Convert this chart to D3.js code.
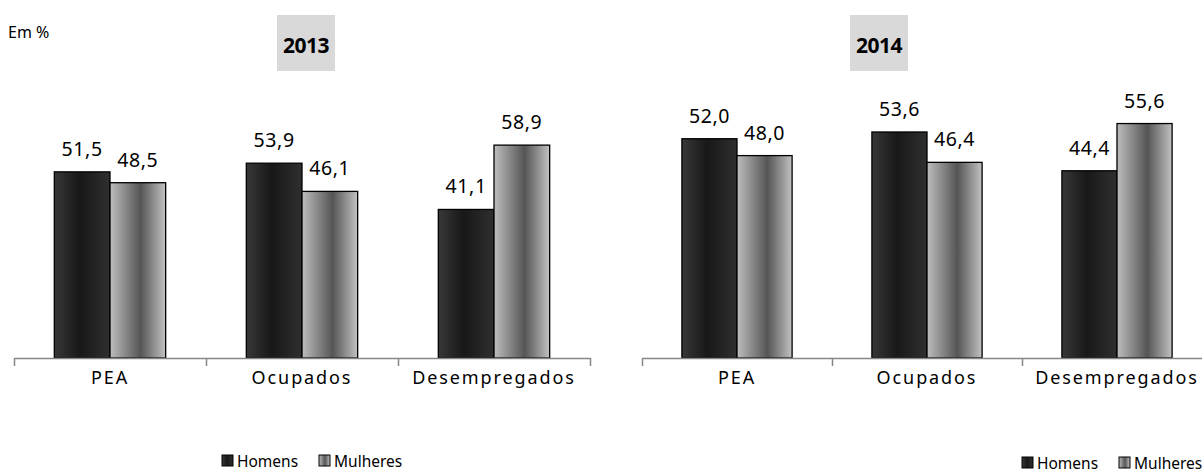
<!DOCTYPE html>
<html>
<head>
<meta charset="utf-8">
<script src="https://cdn.jsdelivr.net/npm/d3@7"></script>
<style>
  html, body { margin: 0; padding: 0; background: #fff; }
  svg { display: block; }
  text { font-family: "Noto Sans", "Open Sans", sans-serif; fill: #000; }
</style>
</head>
<body>
<svg id="chart" width="1202" height="475"></svg>
<script>
// Participação de homens e mulheres (%), 2013 e 2014
const categories = ["PEA", "Ocupados", "Desempregados"];
const seriesNames = ["Homens", "Mulheres"];
const years = ["2013", "2014"];
const homens2013 = [51.5, 53.9, 41.1];
const mulheres2013 = [48.5, 46.1, 58.9];
const homens2014 = [52.0, 53.6, 44.4];
const mulheres2014 = [48.0, 46.4, 55.6];
const yMax = [70, 60];

const svg = d3.select("#chart");
const fmt = d3.formatLocale({ decimal: ",", thousands: ".", grouping: [3], currency: ["", ""] }).format(".1f");

// horizontal "cylinder" gradients for the two series
const defs = svg.append("defs");
function grad(id, stops) {
  const g = defs.append("linearGradient").attr("id", id)
    .attr("x1", "0%").attr("x2", "100%").attr("y1", "0%").attr("y2", "0%");
  stops.forEach(([o, c]) => g.append("stop").attr("offset", o).attr("stop-color", c));
}
grad("gH", [["0%", "#383838"], ["45%", "#181818"], ["100%", "#2f2f2f"]]);
grad("gM", [["0%", "#bdbdbd"], ["55%", "#555555"], ["100%", "#c2c2c2"]]);
const fills = { Homens: "url(#gH)", Mulheres: "url(#gM)" };

const panels = [
  { year: years[0], homens: homens2013, mulheres: mulheres2013, x: [14, 590], yMax: yMax[0],
    titleX: 306, legendX: 222, legendY: 462 },
  { year: years[1], homens: homens2014, mulheres: mulheres2014, x: [642, 1212], yMax: yMax[1],
    titleX: 879, legendX: 1022, legendY: 464 }
];

const baseY = 358, topY = 105;

svg.append("text").attr("x", 8).attr("y", 38).attr("font-size", 16).text("Em %");

panels.forEach(p => {
  const g = svg.append("g");
  const x0 = d3.scaleBand().domain(categories).range(p.x).paddingInner(0.42).paddingOuter(0.21);
  const x1 = d3.scaleBand().domain(seriesNames).range([0, x0.bandwidth()]);
  const y = d3.scaleLinear().domain([0, p.yMax]).range([baseY, topY]);

  // title box
  const tb = g.append("g");
  tb.append("rect").attr("x", p.titleX - 29).attr("y", 15).attr("width", 58).attr("height", 56).attr("fill", "#d9d9d9");
  tb.append("text").attr("x", p.titleX).attr("y", 53).attr("text-anchor", "middle")
    .attr("font-size", 21).attr("font-weight", "bold").attr("letter-spacing", -0.5).text(p.year);

  // bars
  const rows = categories.map((c, i) => ({ c, vals: [p.homens[i], p.mulheres[i]] }));
  const grp = g.selectAll("g.cat").data(rows).join("g").attr("class", "cat")
    .attr("transform", d => `translate(${x0(d.c)},0)`);
  grp.selectAll("rect").data(d => d.vals.map((v, k) => ({ s: seriesNames[k], v })))
    .join("rect")
    .attr("x", d => x1(d.s)).attr("width", x1.bandwidth())
    .attr("y", d => y(d.v)).attr("height", d => baseY - y(d.v))
    .attr("fill", d => fills[d.s]).attr("stroke", "#000").attr("stroke-width", 1.3);
  grp.selectAll("text").data(d => d.vals.map((v, k) => ({ s: seriesNames[k], v })))
    .join("text")
    .attr("x", d => x1(d.s) + x1.bandwidth() / 2).attr("y", d => y(d.v) - 16)
    .attr("text-anchor", "middle").attr("font-size", 19.5).attr("letter-spacing", 0.6)
    .text(d => fmt(d.v));

  // category axis with boundary ticks
  const xi = d3.scaleLinear().domain([0, categories.length]).range(p.x);
  const ax = g.append("g").attr("transform", `translate(0,${baseY})`)
    .call(d3.axisBottom(xi).tickValues(d3.range(categories.length + 1)).tickFormat("").tickSize(8).tickSizeOuter(0));
  ax.select(".domain").attr("stroke", "#868686").attr("stroke-width", 1.5);
  ax.selectAll(".tick line").attr("stroke", "#868686").attr("stroke-width", 1.5);

  g.selectAll("text.cat").data(categories).join("text").attr("class", "cat")
    .attr("x", d => x0(d) + x0.bandwidth() / 2).attr("y", 384)
    .attr("text-anchor", "middle").attr("font-size", 18).attr("letter-spacing", 1.9)
    .text(d => d);

  // legend
  const lg = g.append("g").attr("transform", `translate(${p.legendX},${p.legendY})`);
  const items = [{ s: "Homens", dx: 0 }, { s: "Mulheres", dx: 97 }];
  items.forEach(it => {
    lg.append("rect").attr("x", it.dx).attr("y", -7).attr("width", 11).attr("height", 11)
      .attr("fill", fills[it.s]).attr("stroke", "#000").attr("stroke-width", 1);
    lg.append("text").attr("x", it.dx + 15).attr("y", 5).attr("font-size", 15.5).text(it.s);
  });
});
</script>
</body>
</html>
